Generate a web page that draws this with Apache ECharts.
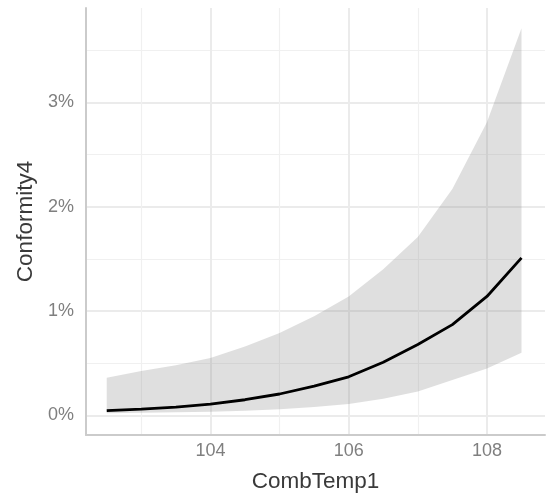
<!DOCTYPE html>
<html>
<head>
<meta charset="utf-8">
<script src="https://cdn.jsdelivr.net/npm/echarts@6/dist/echarts.min.js"></script>
<style>
  html, body { margin: 0; padding: 0; background: #fff; }
  #chart { width: 549px; height: 498px; }
</style>
</head>
<body>
<div id="chart"></div>
<script>
// Predicted conformity (%) against combustion temperature, with confidence band
const combTemp   = [102.5, 103, 103.5, 104, 104.5, 105, 105.5, 106, 106.5, 107, 107.5, 108, 108.5];
const fitPct     = [0.045, 0.06, 0.08, 0.108, 0.15, 0.205, 0.28, 0.37, 0.51, 0.68, 0.87, 1.14, 1.51];
const lowerPct   = [0.02, 0.025, 0.03, 0.035, 0.045, 0.06, 0.08, 0.11, 0.16, 0.23, 0.34, 0.45, 0.60];
const upperPct   = [0.36, 0.425, 0.48, 0.55, 0.66, 0.79, 0.95, 1.14, 1.40, 1.71, 2.17, 2.81, 3.71];

const xMajor = [104, 106, 108];
const xMinor = [103, 105, 107];
const yMajor = [0, 1, 2, 3];
const yMinor = [0.5, 1.5, 2.5, 3.5];

const xRange = [102.2, 108.84];
const yRange = [-0.188, 3.905];

const bandRows = combTemp.map((x, i) => [x, lowerPct[i], upperPct[i]]);
const fitPts   = combTemp.map((x, i) => [x, fitPct[i]]);

const labelFont = { fontFamily: 'Liberation Sans, Arial, sans-serif', fontSize: 18, color: '#7f7f7f' };
const nameFont  = { fontFamily: 'Liberation Sans, Arial, sans-serif', fontSize: 22.5, color: '#3a3a3a' };

// Confidence ribbon: one polygon along the upper bound and back along the lower bound
function renderBand(params, api) {
  if (params.dataIndex !== 0) return null;
  const top = bandRows.map(r => api.coord([r[0], r[2]]));
  const bottom = bandRows.slice().reverse().map(r => api.coord([r[0], r[1]]));
  return {
    type: 'polygon',
    shape: { points: top.concat(bottom) },
    style: { fill: 'rgba(128,128,128,0.25)' },
    silent: true
  };
}

const chart = echarts.init(document.getElementById('chart'), null, { renderer: 'canvas' });
chart.setOption({
  animation: false,
  grid: { left: 86, right: 4, top: 8, bottom: 60, containLabel: false },
  xAxis: [
    {
      type: 'value', min: xRange[0], max: xRange[1],
      name: 'CombTemp1', nameLocation: 'middle', nameGap: 35, nameTextStyle: nameFont,
      axisLine: { show: true, onZero: false, lineStyle: { color: '#cbcbcb', width: 2 } },
      axisTick: { show: false, customValues: xMajor },
      axisLabel: Object.assign({ customValues: xMajor, margin: 7 }, labelFont),
      splitLine: { show: true, lineStyle: { color: '#ebebeb', width: 2 } }
    },
    {
      type: 'value', min: xRange[0], max: xRange[1], position: 'bottom',
      axisLine: { show: false, onZero: false }, axisTick: { show: false, customValues: xMinor },
      axisLabel: { show: false, customValues: xMinor },
      splitLine: { show: true, lineStyle: { color: '#f0f0f0', width: 1.2 } }
    }
  ],
  yAxis: [
    {
      type: 'value', min: yRange[0], max: yRange[1],
      name: 'Conformity4', nameLocation: 'middle', nameGap: 48, nameTextStyle: nameFont,
      axisLine: { show: true, onZero: false, lineStyle: { color: '#cbcbcb', width: 2 } },
      axisTick: { show: false, customValues: yMajor },
      axisLabel: Object.assign({ customValues: yMajor, margin: 12, formatter: '{value}%' }, labelFont),
      splitLine: { show: true, lineStyle: { color: '#ebebeb', width: 2 } }
    },
    {
      type: 'value', min: yRange[0], max: yRange[1], position: 'left',
      axisLine: { show: false, onZero: false }, axisTick: { show: false, customValues: yMinor },
      axisLabel: { show: false, customValues: yMinor },
      splitLine: { show: true, lineStyle: { color: '#f0f0f0', width: 1.2 } }
    }
  ],
  series: [
    {
      type: 'custom', data: bandRows, renderItem: renderBand,
      encode: { x: 0, y: [1, 2] }, silent: true, z: 2
    },
    {
      type: 'line', data: fitPts, symbol: 'none',
      lineStyle: { color: '#000000', width: 2.8 }, z: 3
    }
  ]
});
</script>
</body>
</html>
